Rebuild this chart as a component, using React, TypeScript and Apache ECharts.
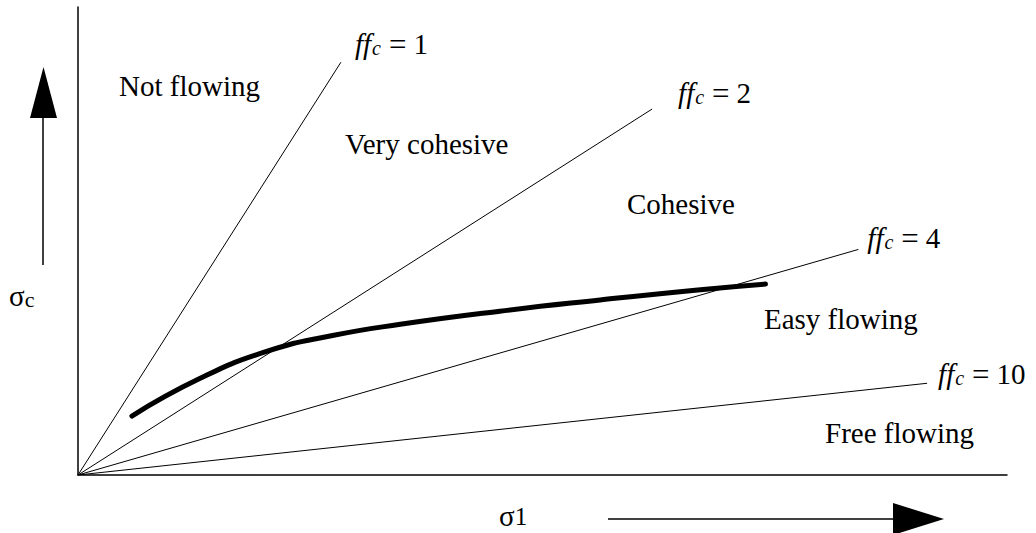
import React, { useEffect, useRef } from "react";
import * as echarts from "echarts";

// Flow function classes: σc = σ1 / ffc, drawn as rays from the origin
const ffcValues = [1, 2, 4, 10];
const rayEndSigma1 = [2.83, 6.18, 8.4, 9.14];
const rayEndSigmaC = [4.41, 3.91, 2.41, 0.98];

// Measured flow function of the bulk solid (σ1, σc)
const flowSigma1 = [0.58, 1.31, 2.03, 2.74, 3.47, 4.54, 5.62, 6.7, 7.4];
const flowSigmaC = [0.63, 1.03, 1.32, 1.49, 1.61, 1.75, 1.87, 1.98, 2.04];

// Flowability regions
const regionNames = ["Not flowing", "Very cohesive", "Cohesive", "Easy flowing", "Free flowing"];

const SERIF = '"Liberation Serif", "Times New Roman", serif';

// label placement (pixels)
const rayLabelOffsets = [
  [14, -18],
  [26, -16],
  [9, -11],
  [11, -9],
];
const regionPos = [
  [119, 86],
  [345, 144],
  [627, 204],
  [764, 319],
  [825, 433],
];

export default function App() {
  const ref = useRef<HTMLDivElement>(null);

  useEffect(() => {
    if (!ref.current) return;
    const chart = echarts.init(ref.current, undefined, { renderer: "svg" });

    const raySeries = ffcValues.map((v, i) => ({
      type: "line",
      name: `ffc = ${v}`,
      data: [
        [0, 0],
        [rayEndSigma1[i], rayEndSigmaC[i]],
      ],
      symbol: "none",
      silent: true,
      lineStyle: { color: "#000", width: 1 },
      endLabel: {
        show: true,
        distance: 0,
        offset: rayLabelOffsets[i],
        formatter: () => `{ff|ff}{c|c}{eq|=}{num|${v}}`,
        rich: {
          ff: { fontFamily: SERIF, fontStyle: "italic", fontSize: 29, color: "#000" },
          c: {
            fontFamily: SERIF,
            fontStyle: "italic",
            fontSize: 20,
            color: "#000",
            padding: [8, 0, 0, 1],
          },
          eq: { fontFamily: SERIF, fontSize: 31, color: "#000", padding: [0, 7, 0, 8] },
          num: { fontFamily: SERIF, fontSize: 29, color: "#000" },
        },
      },
    }));

    const flowData = flowSigma1.map((x, i) => [x, flowSigmaC[i]]);

    chart.setOption({
      animation: false,
      backgroundColor: "#fff",
      grid: { left: 78, top: 7, right: 29, bottom: 58 },
      xAxis: {
        type: "value",
        min: 0,
        max: 10,
        axisLine: { show: true, lineStyle: { color: "#000", width: 1.5 } },
        axisTick: { show: false },
        axisLabel: { show: false },
        splitLine: { show: false },
      },
      yAxis: {
        type: "value",
        min: 0,
        max: 5,
        axisLine: { show: true, lineStyle: { color: "#000", width: 1.5 } },
        axisTick: { show: false },
        axisLabel: { show: false },
        splitLine: { show: false },
      },
      series: [
        ...raySeries,
        {
          type: "line",
          name: "flow function",
          data: flowData,
          smooth: 0.5,
          symbol: "none",
          silent: true,
          lineStyle: { color: "#000", width: 5, cap: "round" },
        },
      ],
      graphic: [
        ...regionNames.map((t, i) => ({
          type: "text",
          x: regionPos[i][0],
          y: regionPos[i][1],
          style: {
            text: t,
            fontFamily: SERIF,
            fontSize: 29,
            fill: "#000",
            verticalAlign: "middle",
            align: "left",
          },
        })),
        // σc axis title with upward arrow
        {
          type: "line",
          shape: { x1: 43, y1: 118, x2: 43, y2: 265 },
          style: { stroke: "#000", lineWidth: 1.5 },
        },
        {
          type: "polygon",
          shape: { points: [[43.5, 67], [30, 118], [57, 118]] },
          style: { fill: "#000" },
        },
        {
          type: "text",
          x: 9,
          y: 296,
          style: {
            text: "{s|σ}{c|c}",
            verticalAlign: "middle",
            rich: {
              s: { fontFamily: SERIF, fontSize: 29, color: "#000" },
              c: { fontFamily: SERIF, fontSize: 22, color: "#000", padding: [6, 0, 0, 0] },
            },
          },
        },
        // σ1 axis title with rightward arrow
        {
          type: "text",
          x: 499,
          y: 516,
          style: {
            text: "{s|σ}{n|1}",
            verticalAlign: "middle",
            rich: {
              s: { fontFamily: SERIF, fontSize: 29, color: "#000" },
              n: { fontFamily: SERIF, fontSize: 25, color: "#000" },
            },
          },
        },
        {
          type: "line",
          shape: { x1: 608, y1: 519, x2: 895, y2: 519 },
          style: { stroke: "#000", lineWidth: 1.5 },
        },
        {
          type: "polygon",
          shape: { points: [[893, 503], [944, 519], [893, 535]] },
          style: { fill: "#000" },
        },
      ],
    });

    return () => chart.dispose();
  }, []);

  return (
    <div
      ref={ref}
      style={{ position: "absolute", left: 0, top: 0, width: 1036, height: 533, background: "#fff" }}
    />
  );
}
